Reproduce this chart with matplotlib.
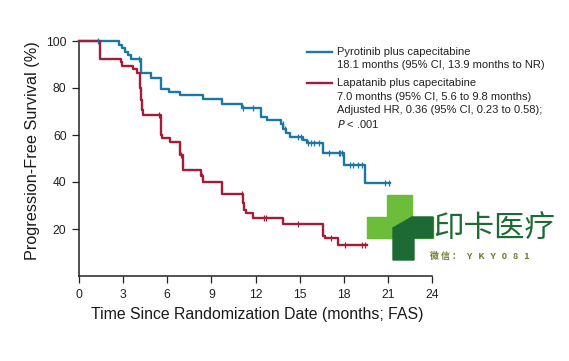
import numpy as np
import matplotlib
matplotlib.use("Agg")
import matplotlib.pyplot as plt
from matplotlib.patches import Rectangle, Polygon

# ---------------- data ----------------
blue_times = [0, 2.7, 2.9, 3.1, 3.3, 3.55, 4.2, 4.9, 5.6, 6.1, 6.9, 8.4, 9.75, 11.1,
              12.4, 12.75, 13.7, 13.9, 14.1, 14.35, 15.2, 15.5, 16.6, 18.0, 19.45]
blue_surv = [100, 98.4, 97.0, 95.5, 94.0, 92.3, 86.2, 84.1, 79.4, 78.3, 77.0, 75.5, 73.0, 71.3,
             67.8, 66.4, 64.5, 62.5, 60.8, 59.0, 57.7, 56.5, 52.2, 47.2, 39.7]
blue_end = 21.15
blue_censor = [1.27, 4.05, 11.15, 11.85, 13.85, 14.0, 14.9, 15.12, 15.6, 15.8, 16.0, 16.3,
               17.0, 17.65, 17.76, 17.88, 18.45, 18.65, 19.0, 19.23, 20.8, 21.05]

red_times = [0, 1.4, 2.85, 2.95, 3.65, 3.95, 4.15, 4.2, 4.25, 4.35, 5.55, 5.65, 6.2, 6.9, 7.05,
             8.3, 8.4, 9.75, 11.15, 11.25, 11.35, 11.85, 13.9, 16.6, 16.7, 17.6]
red_surv = [100, 92.4, 90.9, 89.4, 88.0, 86.5, 80.0, 75.0, 70.5, 68.5, 60.0, 58.6, 57.2, 51.5, 45.1,
            42.5, 39.9, 35.0, 31.0, 28.0, 26.7, 24.5, 22.1, 17.0, 16.3, 13.2]
red_end = 19.6
red_censor = [5.45, 6.95, 8.35, 11.1, 12.55, 12.7, 14.9, 17.15, 18.1, 19.25, 19.45]

x_ticks = [0, 3, 6, 9, 12, 15, 18, 21, 24]
y_ticks = [20, 40, 60, 80, 100]

legend_blue = ["Pyrotinib plus capecitabine", "18.1 months (95% CI, 13.9 months to NR)"]
legend_red = ["Lapatanib plus capecitabine", "7.0 months (95% CI, 5.6 to 9.8 months)",
              "Adjusted HR, 0.36 (95% CI, 0.23 to 0.58);"]

BLUE = "#1c76a6"
RED = "#a31d3b"

W, H = 569, 361
fig = plt.figure(figsize=(W / 100, H / 100), dpi=100)
fig.patch.set_facecolor("white")

def fx(px):
    return px / W

def fy(py):
    return 1 - py / H

ax = fig.add_axes([fx(79), fy(276), fx(432) - fx(79), fy(41) - fy(276)])

def km(ax, times, surv, end, censor, color):
    t = list(times) + [end]
    s = list(surv) + [surv[-1]]
    ax.step(t, s, where="post", color=color, lw=1.7, clip_on=False, zorder=3)
    idx = np.searchsorted(np.array(times), np.array(censor), side="right") - 1
    cs = np.array(surv)[idx]
    ax.plot(censor, cs, ls="none", marker="|", ms=5, mew=0.9, color=color, clip_on=False, zorder=4)

km(ax, blue_times, blue_surv, blue_end, blue_censor, BLUE)
km(ax, red_times, red_surv, red_end, red_censor, RED)

ax.set_xlim(0, 24)
ax.set_ylim(0, 100)
ax.set_xticks(x_ticks)
ax.set_yticks(y_ticks)
tickfont = dict(family=["Liberation Sans", "DejaVu Sans"], size=8.7)
ax.set_xticklabels([str(v) for v in x_ticks], **tickfont)
ax.set_yticklabels([str(v) for v in y_ticks], **tickfont)
ax.tick_params(direction="out", length=5, width=0.9, color="#222222", labelcolor="#222222", pad=4)
for sp in ["top", "right"]:
    ax.spines[sp].set_visible(False)
for sp in ["left", "bottom"]:
    ax.spines[sp].set_linewidth(1.1)
    ax.spines[sp].set_color("#222222")

labfont = dict(family=["Liberation Sans", "DejaVu Sans"], color="#1a1a1a")
fig.text(fx(257), fy(315), "Time Since Randomization Date (months; FAS)", ha="center", va="center",
         size=11.4, **labfont)
fig.text(fx(33), fy(151), "Progression-Free Survival (%)", ha="center", va="center", rotation=90,
         size=11.7, **labfont)

# legend
legfont = dict(family=["Liberation Sans", "DejaVu Sans"], size=8.0, color="#222222")
fig.add_artist(plt.Line2D([fx(307), fx(332)], [fy(52), fy(52)], color=BLUE, lw=1.7))
fig.add_artist(plt.Line2D([fx(307), fx(332)], [fy(83), fy(83)], color=RED, lw=1.7))
for i, line in enumerate(legend_blue):
    fig.text(fx(337), fy(52 + 13.5 * i), line, ha="left", va="center", **legfont)
for i, line in enumerate(legend_red):
    fig.text(fx(337), fy(83 + 13.7 * i), line, ha="left", va="center", **legfont)
fig.text(fx(337), fy(124.5), r"$P$ < .001", ha="left", va="center", **legfont)

# watermark
LG = "#6bbd3a"
DG = "#1e6a34"
fig.patches.append(Rectangle((fx(387), fy(238)), fx(25), fy(195) - fy(238), transform=fig.transFigure, color=LG, zorder=5))
fig.patches.append(Rectangle((fx(367), fy(238)), fx(66), fy(217) - fy(238), transform=fig.transFigure, color=LG, zorder=5))
fig.patches.append(Polygon([(fx(393), fy(260)), (fx(393), fy(228)), (fx(412), fy(217)), (fx(433), fy(217)),
                            (fx(433), fy(238)), (fx(414), fy(238)), (fx(414), fy(260))],
                           closed=True, transform=fig.transFigure, color=DG, zorder=6))
fig.text(fx(494), fy(229), "印卡医疗", ha="center", va="center", color=DG, fontsize=22,
         family=["Noto Sans CJK SC", "DejaVu Sans"], zorder=7)
fig.text(fx(430), fy(256), "微 信 ：   Y   K   Y   0   8   1", ha="left", va="center", color="#6f7d2a",
         fontsize=6.5, fontweight="bold", family=["Noto Sans CJK SC", "DejaVu Sans"], zorder=7)

fig.savefig("out.png", dpi=100, facecolor="white")
